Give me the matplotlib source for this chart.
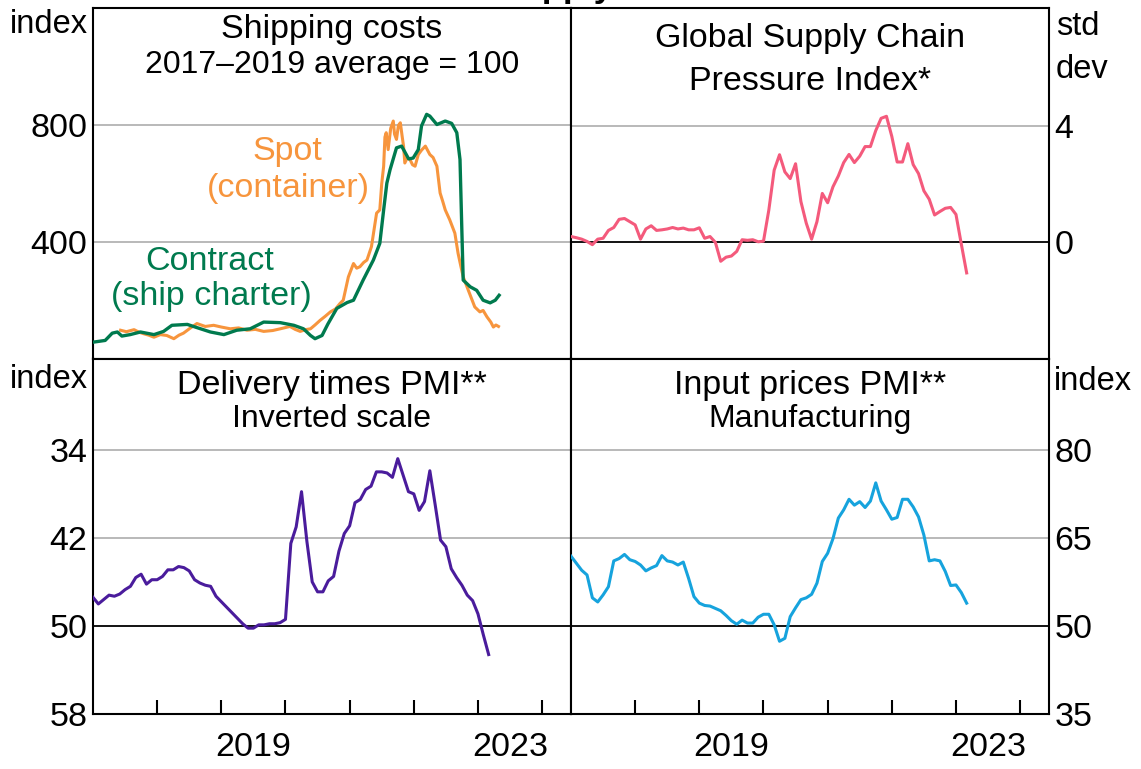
import numpy as np
import matplotlib.pyplot as plt

plt.rcParams['font.family'] = ['Liberation Sans', 'DejaVu Sans']

W, H = 1141, 769

# shipping costs, 2017-2019 average = 100 (decimal years)
spot_t = [2017.43, 2017.52, 2017.64, 2017.72, 2017.79, 2017.87, 2017.95,
          2018.05, 2018.15, 2018.26, 2018.34, 2018.41, 2018.52, 2018.62, 2018.75, 2018.88,
          2019.00, 2019.14, 2019.27, 2019.40, 2019.53, 2019.66, 2019.80, 2019.92,
          2020.07, 2020.15, 2020.23, 2020.31, 2020.39, 2020.46, 2020.54, 2020.62, 2020.70,
          2020.78, 2020.85, 2020.90, 2020.98,
          2021.06, 2021.11, 2021.16, 2021.22, 2021.27, 2021.34, 2021.42, 2021.47, 2021.50,
          2021.53, 2021.55, 2021.57, 2021.60, 2021.64, 2021.68, 2021.70, 2021.73, 2021.76,
          2021.79, 2021.82, 2021.84, 2021.86, 2021.90, 2021.94, 2021.98,
          2022.02, 2022.07, 2022.12, 2022.18, 2022.25, 2022.30, 2022.36, 2022.41, 2022.45,
          2022.49, 2022.56, 2022.64, 2022.69, 2022.73, 2022.77, 2022.85, 2022.95,
          2023.03, 2023.08, 2023.14, 2023.20, 2023.24, 2023.28, 2023.32]
spot_v = [97, 92, 99, 90, 85, 80, 73,
          82, 79, 68, 80, 87, 105, 120, 110, 114,
          108, 102, 105, 97, 100, 93, 96, 102,
          110, 100, 93, 99, 102, 115, 131, 145, 160, 170, 189, 200, 280,
          326, 310, 315, 330, 338, 384, 499, 510, 600, 660, 760, 775, 717, 790, 815, 770,
          752, 800, 809, 760, 729, 671, 690, 683, 665,
          660, 700, 715, 729, 700, 690, 660, 568, 540, 510, 476, 430, 361, 320, 280, 234, 177,
          160, 165, 143, 125, 108, 115, 110]

contract_t = [2017.00, 2017.19, 2017.30, 2017.38, 2017.45, 2017.58, 2017.74, 2017.95,
              2018.10, 2018.23, 2018.47, 2018.62, 2018.83,
              2019.04, 2019.24, 2019.45, 2019.66, 2019.92,
              2020.13, 2020.28, 2020.39, 2020.46, 2020.57, 2020.66, 2020.80, 2020.96,
              2021.06, 2021.21, 2021.37, 2021.47, 2021.53, 2021.58, 2021.63, 2021.73, 2021.81,
              2021.92, 2021.99,
              2022.07, 2022.12, 2022.20, 2022.25, 2022.36, 2022.49, 2022.59, 2022.67, 2022.72,
              2022.75, 2022.77, 2022.88, 2022.98,
              2023.08, 2023.19, 2023.27, 2023.33]
contract_v = [56, 62, 87, 91, 77, 82, 91, 82,
              93, 114, 117, 106, 91,
              82, 97, 102, 125, 123,
              114, 102, 79, 68, 79, 118, 172, 192,
              200, 269, 338, 395, 510, 602, 648, 723, 729, 685, 688,
              717, 798, 838, 832, 803, 815, 807, 775, 683, 430, 269, 246, 234,
              200, 191, 200, 217]

# monthly series from Jan 2017
gscpi = [0.19, 0.15, 0.10, 0.02, -0.09, 0.10, 0.13, 0.40, 0.50, 0.78,
         0.81, 0.70, 0.59, 0.10, 0.45, 0.56, 0.40, 0.42, 0.45, 0.50,
         0.45, 0.48, 0.42, 0.42, 0.49, 0.13, 0.19, -0.01, -0.66, -0.52,
         -0.48, -0.32, 0.08, 0.06, 0.08, 0.01, 0.03, 1.10, 2.47, 3.00,
         2.41, 2.18, 2.69, 1.39, 0.65, 0.10, 0.70, 1.67, 1.35, 1.90,
         2.27, 2.73, 3.01, 2.73, 2.95, 3.28, 3.28, 3.83, 4.25, 4.32,
         3.63, 2.75, 2.75, 3.38, 2.66, 2.35, 1.76, 1.47, 0.93, 1.05,
         1.16, 1.19, 0.95, -0.07, -1.06]

delivery_pmi = [47.4, 48.0, 47.6, 47.2, 47.3, 47.1, 46.7, 46.4, 45.6, 45.3,
                46.2, 45.8, 45.8, 45.5, 44.9, 44.9, 44.6, 44.7, 45.0, 45.8,
                46.1, 46.3, 46.4, 47.3, 47.8, 48.3, 48.8, 49.3, 49.8, 50.2,
                50.2, 49.9, 49.9, 49.8, 49.8, 49.7, 49.4, 42.5, 41.0, 37.8,
                42.3, 46.0, 46.9, 46.9, 45.9, 45.5, 43.2, 41.6, 40.9, 38.8,
                38.5, 37.6, 37.3, 36.0, 36.0, 36.1, 36.5, 34.8, 36.3, 37.8,
                38.0, 39.5, 38.7, 35.9, 39.0, 42.2, 42.8, 44.8, 45.6, 46.3,
                47.2, 47.7, 48.9, 50.8, 52.6]

input_pmi = [61.9, 60.7, 59.5, 58.7, 54.8, 54.1, 55.3, 56.7, 61.1, 61.5,
             62.2, 61.3, 61.0, 60.4, 59.4, 59.9, 60.3, 62.0, 61.1, 60.9,
             60.4, 60.9, 58.1, 55.0, 53.9, 53.5, 53.4, 53.0, 52.6, 51.8,
             50.9, 50.3, 51.0, 50.5, 50.5, 51.5, 52.0, 52.0, 50.2, 47.4,
             47.9, 51.6, 53.1, 54.5, 54.8, 55.4, 57.3, 61.0, 62.4, 64.9,
             68.4, 69.8, 71.6, 70.6, 71.2, 70.2, 71.3, 74.4, 71.3, 69.8,
             68.2, 68.5, 71.6, 71.6, 70.3, 68.6, 65.5, 61.1, 61.3, 61.1,
             59.3, 56.9, 57.0, 55.7, 53.9]

year_labels = ['2019', '2023']

ORANGE = '#F7953D'
GREEN = '#007A4E'
PINK = '#F45A7C'
PURPLE = '#4A1C9C'
BLUE = '#16A3DD'
GRID = '#b3b3b3'
FS = 24.5


def box(x0, y0, x1, y1):
    return [x0 / W, 1 - y1 / H, (x1 - x0) / W, (y1 - y0) / H]


def ftext(x, y, s, **kw):
    kw.setdefault('fontsize', FS)
    kw.setdefault('va', 'baseline')
    kw.setdefault('ha', 'center')
    fig.text(x / W, 1 - y / H, s, **kw)


def months(vals):
    return 2017 + np.arange(len(vals)) / 12


def style(ax, yticks, grid, zero=None, right=False, bottom=False):
    ax.set_xlim(2017, 2024.45)
    for sp in ax.spines.values():
        sp.set_linewidth(1.5)
    for g in grid:
        ax.axhline(g, color=GRID, lw=1.3, zorder=1)
    if zero is not None:
        ax.axhline(zero, color='black', lw=1.3, zorder=1)
    ax.set_yticks(yticks)
    if right:
        ax.yaxis.tick_right()
    ax.tick_params(axis='y', length=0, labelsize=FS, pad=4)
    if bottom:
        ax.set_xticks(range(2018, 2025))
        ax.set_xticklabels([])
        ax.tick_params(axis='x', which='major', direction='in', length=10, width=1.5)
        ax.set_xticks([2019.5, 2023.5], minor=True)
        ax.set_xticklabels(year_labels, minor=True)
        ax.tick_params(axis='x', which='minor', length=0, labelsize=FS, pad=13)
    else:
        ax.set_xticks([])


fig = plt.figure(figsize=(W / 100, H / 100), dpi=100)

ax_tl = fig.add_axes(box(93, 8, 571, 358.5))
ax_tr = fig.add_axes(box(571, 8, 1049, 358.5))
ax_bl = fig.add_axes(box(93, 358.5, 571, 714))
ax_br = fig.add_axes(box(571, 358.5, 1049, 714))

# shipping costs
ax_tl.plot(spot_t, spot_v, color=ORANGE, lw=2.2, zorder=3)
ax_tl.plot(contract_t, contract_v, color=GREEN, lw=2.4, zorder=4)
ax_tl.set_ylim(0, 1203)
style(ax_tl, [400, 800], [400, 800])

# GSCPI
ax_tr.plot(months(gscpi), gscpi, color=PINK, lw=2.2, zorder=3)
ax_tr.set_ylim(-4, 8.04)
style(ax_tr, [0, 4], [4], zero=0, right=True)

# delivery times (inverted)
ax_bl.plot(months(delivery_pmi), delivery_pmi, color=PURPLE, lw=2.2, zorder=3)
ax_bl.set_ylim(58, 25.7)
style(ax_bl, [34, 42, 50, 58], [34, 42], zero=50, bottom=True)

# input prices
ax_br.plot(months(input_pmi), input_pmi, color=BLUE, lw=2.2, zorder=3)
ax_br.set_ylim(35, 95.6)
style(ax_br, [35, 50, 65, 80], [65, 80], zero=50, right=True, bottom=True)

# chart title, cut off at the top of the image as in the source
ftext(550, -2.5, 'Global Supply Chain', fontsize=25, fontweight='bold')

# panel titles
ftext(332, 38, 'Shipping costs')
ftext(332, 73, '2017\u20132019 average = 100', fontsize=23)
ftext(810, 47, 'Global Supply Chain')
ftext(810, 90, 'Pressure Index*')
ftext(332, 394, 'Delivery times PMI**')
ftext(332, 427, 'Inverted scale', fontsize=23)
ftext(810, 394, 'Input prices PMI**')
ftext(810, 427, 'Manufacturing', fontsize=23)

# units
ftext(88, 33, 'index', ha='right', fontsize=23.5)
ftext(88, 388, 'index', ha='right', fontsize=23.5)
ftext(1056, 35, 'std', ha='left', fontsize=23.5)
ftext(1056, 78, 'dev', ha='left', fontsize=23.5)
ftext(1054, 390, 'index', ha='left', fontsize=23.5)

# series labels
ftext(287, 160, 'Spot', color=ORANGE)
ftext(288, 197, '(container)', color=ORANGE)
ftext(210, 270, 'Contract', color=GREEN)
ftext(211, 305, '(ship charter)', color=GREEN)

fig.savefig('out.png', dpi=100)
